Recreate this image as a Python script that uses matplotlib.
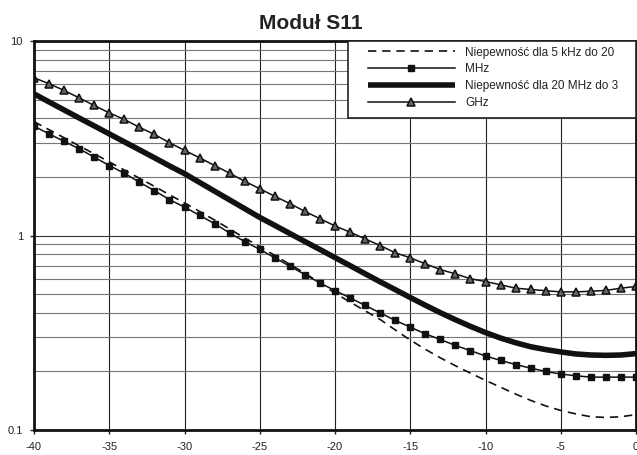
import numpy as np
import matplotlib
matplotlib.use("Agg")
import matplotlib.pyplot as plt
from matplotlib.patches import Rectangle
from matplotlib.ticker import FixedLocator, FixedFormatter, NullFormatter

plt.rcParams['font.family'] = ['Liberation Sans', 'DejaVu Sans']
plt.rcParams['axes.unicode_minus'] = False

# attenuation axis, dB
x = np.arange(-40, 1, 1)

# dashed: 5 kHz - 20 MHz (line only)
dashed = [3.85, 3.50, 3.18, 2.89, 2.63, 2.39, 2.17, 1.97, 1.79, 1.62,
          1.47, 1.33, 1.20, 1.08, 0.97, 0.875, 0.79, 0.71, 0.64, 0.57,
          0.505, 0.455, 0.41, 0.37, 0.327, 0.29, 0.26, 0.235, 0.214, 0.196,
          0.18, 0.166, 0.153, 0.142, 0.133, 0.126, 0.121, 0.117, 0.116, 0.117,
          0.12]
# squares
squares = [3.65, 3.33, 3.05, 2.79, 2.53, 2.29, 2.09, 1.88, 1.70, 1.53,
           1.40, 1.27, 1.15, 1.03, 0.931, 0.848, 0.768, 0.695, 0.630, 0.570,
           0.521, 0.478, 0.437, 0.400, 0.366, 0.338, 0.312, 0.292, 0.272, 0.256,
           0.240, 0.228, 0.217, 0.208, 0.200, 0.194, 0.190, 0.187, 0.187, 0.187,
           0.187]
# thick: 20 MHz - 3 GHz
thick = [5.35, 4.86, 4.42, 4.02, 3.66, 3.33, 3.03, 2.76, 2.51, 2.28,
         2.08, 1.875, 1.69, 1.524, 1.374, 1.239, 1.127, 1.024, 0.931, 0.847,
         0.77, 0.70, 0.636, 0.578, 0.527, 0.48, 0.438, 0.401, 0.369, 0.341,
         0.317, 0.297, 0.281, 0.268, 0.259, 0.252, 0.246, 0.243, 0.242, 0.243,
         0.247]
# triangles
triangles = [6.47, 6.03, 5.57, 5.10, 4.66, 4.27, 3.95, 3.60, 3.31, 3.00,
             2.74, 2.51, 2.29, 2.09, 1.90, 1.74, 1.59, 1.46, 1.33, 1.22,
             1.12, 1.04, 0.961, 0.888, 0.815, 0.768, 0.715, 0.668, 0.635, 0.599,
             0.580, 0.558, 0.536, 0.528, 0.520, 0.513, 0.513, 0.517, 0.522, 0.536,
             0.547]

labels = ["Niepewność dla 5 kHz do 20", "MHz",
          "Niepewność dla 20 MHz do 3", "GHz"]

W, H = 637, 455
fig = plt.figure(figsize=(W/100, H/100), dpi=100)
ax = fig.add_axes([34/W, 25/H, 602/W, 389/H])

ax.plot(x, dashed, color='#111', lw=1.2, ls=(0, (5, 3.5)), label=labels[0])
ax.plot(x, squares, color='#111', lw=1.1, marker='s', ms=5,
        mfc='#111', mec='#111', label=labels[1])
ax.plot(x, thick, color='#111', lw=4, solid_capstyle='butt', label=labels[2])
ax.plot(x, triangles, color='#111', lw=1.1, marker='^', ms=5.5,
        mfc='#666', mec='#111', mew=1.1, label=labels[3])

ax.set_yscale('log')
ax.set_xlim(-40, 0)
ax.set_ylim(0.1, 10)

ax.xaxis.set_major_locator(FixedLocator(np.arange(-40, 1, 5)))
ax.yaxis.set_major_locator(FixedLocator([0.1, 1, 10]))
ax.yaxis.set_major_formatter(FixedFormatter(['0.1', '1', '10']))
ax.yaxis.set_minor_formatter(NullFormatter())

ax.grid(True, which='major', axis='x', color='#222', lw=0.8)
ax.grid(True, which='major', axis='y', color='#333', lw=0.8)
ax.grid(True, which='minor', axis='y', color='#777', lw=0.8)

ax.tick_params(axis='both', which='major', direction='out', length=3,
               width=1, labelsize=8, colors='#222')
ax.tick_params(axis='x', pad=6)
ax.tick_params(axis='y', pad=5)
ax.tick_params(axis='y', which='minor', length=0)

for s in ax.spines.values():
    s.set_linewidth(2)
    s.set_color('#111')

# legend box in the top right corner
to_ax = lambda px, py: ((px - 34) / 602, (430 - py) / 389)
x0, y0 = to_ax(348, 118)
x1, y1 = to_ax(636, 41)
ax.add_patch(Rectangle((x0, y0), x1 - x0, y1 - y0, transform=ax.transAxes,
                       facecolor='white', edgecolor='#222', lw=1.2,
                       zorder=4, clip_on=False))
ax_l, ax_t = to_ax(364, 43)
leg = ax.legend(loc='upper left', bbox_to_anchor=(ax_l, ax_t),
                borderaxespad=0, fontsize=8.5, handlelength=7.4,
                handletextpad=0.85, labelspacing=0.42, borderpad=0.3,
                numpoints=1, frameon=False)
leg.set_zorder(5)
for t in leg.get_texts():
    t.set_color('#222')

fig.text(311/W, 1 - 29/H, "Moduł S11", ha='center', va='baseline',
         fontsize=15, fontweight='bold', color='#222')

fig.savefig("out.png", dpi=100)
